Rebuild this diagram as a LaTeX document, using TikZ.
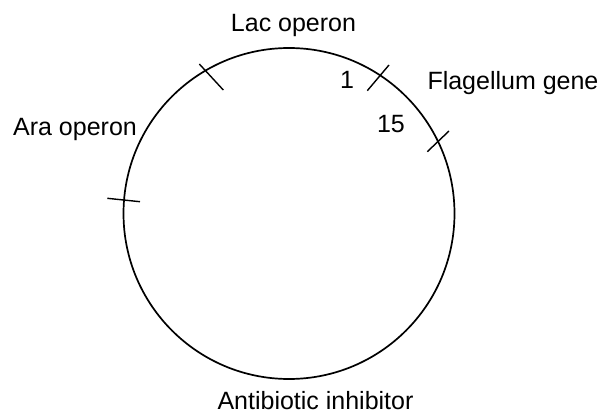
\documentclass[tikz,border=0pt]{standalone}
\usepackage{fontspec}
\setmainfont{Liberation Sans}
\usepackage{tikz}
\usetikzlibrary{positioning}
\tikzset{
  genlabel/.style={
    inner sep=0pt,
    anchor=base,
    font=\fontsize{25}{29}\selectfont
  },
  plasmid/.style={
    draw=black,
    line width=1.7pt
  },
  cutmark/.style={
    draw=black,
    line width=1.4pt
  }
}
\begin{document}
\begin{tikzpicture}[x=1pt,y=-1pt]
\useasboundingbox (0,0) rectangle (600,417);
% plasmid ring
\coordinate (centro) at (289,213.5);
\draw[plasmid] (centro) circle[radius=165.5pt];
% cut marks
\coordinate (ara1) at (107.3,198.3);
\coordinate (ara2) at (140,201.7);
\coordinate (lac1) at (199.3,64);
\coordinate (lac2) at (223.3,90);
\coordinate (uno1) at (389,65);
\coordinate (uno2) at (367.3,90.7);
\coordinate (flg1) at (449,131);
\coordinate (flg2) at (427.3,151.7);
\draw[cutmark] (ara1) -- (ara2);
\draw[cutmark] (lac1) -- (lac2);
\draw[cutmark] (uno1) -- (uno2);
\draw[cutmark] (flg1) -- (flg2);
% labels
\node[genlabel] (lac) at (293.5,31.7) {Lac operon};
\node[genlabel] (ara) at (75,136) {Ara operon};
\node[genlabel,anchor=base west] (flag) at (427.3,90) {Flagellum gene};
\node[genlabel] (uno) at (347,88.3) {1};
\node[genlabel] (quince) at (391,133) {15};
\node[genlabel] (anti) at (315.5,409) {Antibiotic inhibitor};
\end{tikzpicture}
\end{document}
